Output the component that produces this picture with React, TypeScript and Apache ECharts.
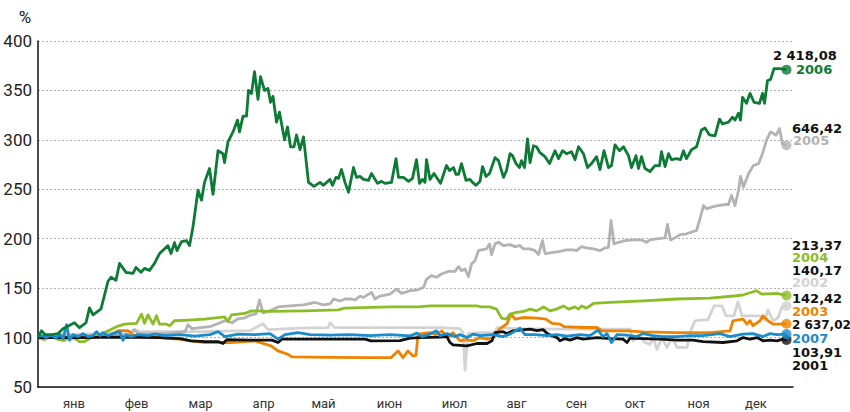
import React, { useEffect, useRef } from "react";
import * as echarts from "echarts";

const monthNames = ["янв", "фев", "мар", "апр", "май", "июн", "июл", "авг", "сен", "окт", "ноя", "дек"];
const monthTicks = [7.2, 19.7, 32.5, 45.1, 57.1, 70.3, 83.3, 95.7, 107.7, 119.4, 132.1, 143.6];
const yTicks = { min: 50, max: 400, interval: 50 };

const s2006 = [[0,100],[0.7,107],[1.4,103],[2.8,103],[4,104],[5,109],[7.3,115],[8.3,110],[9.6,115],[10.3,130],[11,123],[12.6,129],[14,157],[14.6,161],[15.6,158],[16.3,175],[17.6,166],[19,165],[19.6,171],[20.6,166],[21.3,170],[22.3,168],[23.3,175],[24.3,185],[26,193],[26.6,185],[27.3,196],[27.8,188],[28.7,197],[29.7,198],[30.3,193],[31,212],[32,249],[32.7,239],[33.3,257],[34.3,271],[35,245],[36,289],[37,286],[37.3,277],[38,298],[39,308],[39.9,320],[40.3,308],[41,324],[41.7,324],[42.1,350],[42.7,347],[43.3,369],[44,341],[44.5,364],[45.3,350],[46,352],[46.5,338],[47,344],[47.7,318],[48.3,328],[49.3,300],[49.9,313],[50.5,293],[51.2,293],[51.7,305],[52.4,290],[53.1,303],[54.1,257],[55.2,253],[56.4,257],[57.1,254],[58.4,260],[58.9,254],[59.6,262],[60.1,261],[60.7,270],[61.4,257],[62.1,247],[63.1,272],[63.7,262],[64.4,263],[65.1,260],[66.1,259],[66.7,266],[67.9,256],[68.7,258],[69.4,256],[70.7,257],[71.6,281],[72.1,262],[73.1,262],[74.1,258],[74.9,261],[75.7,280],[76.3,256],[76.9,260],[77.4,257],[77.7,280],[78.4,260],[79.2,266],[80.5,256],[81.7,274],[82.3,269],[83.1,272],[83.6,265],[84.1,265],[84.7,276],[85.6,259],[86.4,260],[86.9,257],[87.6,254],[88.4,258],[88.9,273],[89.6,263],[90.3,266],[91.4,282],[92.1,279],[93.1,262],[93.7,269],[94.4,286],[94.9,284],[95.6,276],[96.3,272],[96.7,279],[97.3,272],[97.9,301],[98.4,277],[99.1,294],[99.7,293],[100.4,287],[101.4,283],[102.3,276],[103.4,289],[104.1,281],[104.9,289],[105.7,286],[106.7,288],[107.4,280],[108.1,293],[109.1,286],[109.9,272],[110.7,276],[111.7,283],[112.4,270],[113.2,289],[114.1,272],[114.7,274],[115.4,295],[116.3,289],[117.1,293],[118.1,284],[118.7,272],[119.6,284],[120.1,271],[120.7,283],[121.4,271],[122.4,268],[123.4,274],[124.3,274],[124.7,288],[125.4,273],[126.1,286],[126.7,280],[127.7,281],[128.5,280],[129.1,289],[129.7,281],[130.7,290],[131.7,293],[132.7,310],[133.4,312],[134.3,305],[135.4,304],[136.3,321],[136.9,316],[138.1,318],[138.9,323],[139.4,320],[140.1,327],[140.5,320],[140.9,343],[141.7,337],[142.4,347],[143.2,338],[144.3,337],[144.9,347],[145.3,337],[145.9,360],[146.5,361],[147.2,372],[148.4,372],[149.7,371]];

const s2005 = [[0,100],[2.4,101],[6.4,102],[12.4,102],[18.4,103],[19.3,108],[20,104],[25.4,104],[29.4,106],[30,113],[30.8,109],[34.4,111],[37.4,117],[38.8,115],[40,119],[41.4,120],[42.6,123],[43.6,124],[44.3,138],[45,125],[46.4,127],[48,131],[50.4,132],[53.1,133],[55.4,135.5],[57.1,133],[58.4,134],[59.1,139],[60.4,137],[61.4,139],[62.7,139],[63.4,138],[64.4,142],[65.1,140.6],[66.7,145.7],[67.4,139],[68.4,142],[70.4,144],[71.7,149],[72.7,144.7],[74.4,147.4],[75.7,148],[77.1,150.7],[77.7,159],[78.7,162.6],[79.7,161],[80.7,164.3],[82.1,167],[83.4,167],[84.1,171.7],[84.7,167.7],[85.4,169.4],[86.1,161.6],[86.7,174.5],[87.4,177.8],[88.1,188],[88.7,188.7],[89.7,189.7],[90.3,194.8],[90.7,184],[91.4,194.8],[92.1,196.4],[93.1,193],[94.4,194],[95.4,192],[96.4,193],[97.1,189.7],[98.4,189.7],[99.4,188],[100.1,184],[100.9,198],[101.4,185],[103.1,186.2],[104.4,187.3],[105.7,188.7],[107.1,188.7],[107.7,188],[108.7,192],[109.7,190.7],[111.1,189.7],[112.4,188],[113.4,190.7],[114.1,191.3],[114.6,218.4],[115.2,194.8],[116.1,196.4],[117.4,198],[119.1,198.8],[120.7,198.8],[121.7,196.4],[122.4,198.8],[123.7,199.8],[125.4,200.9],[125.9,214.4],[126.5,198.8],[127.4,200.9],[128.4,204.2],[129.7,205],[130.7,206.6],[131.7,208.3],[132.3,218.4],[133.1,233.6],[133.7,230.2],[134.7,231.9],[136.1,233.6],[137.4,234.6],[138.1,234.6],[138.7,243.8],[139.4,233.6],[140.1,248.8],[140.5,263],[141.1,252.2],[142.1,265.7],[143.1,274.2],[144.1,275.8],[144.9,286],[145.7,299.6],[146.5,308],[147.1,306.4],[147.6,304.6],[148.3,311.4],[148.9,295.5],[149.7,294.5]];

const s2004 = [[0,100],[1.3,98],[2.7,101],[4,98],[5.3,97],[6,100],[7.4,99],[8.3,96],[9.3,96],[10.7,100],[13.3,105],[14.3,107.5],[15.7,111],[17.3,113.6],[19.7,114.3],[20.7,123.7],[21.3,114.3],[22,123],[23,113.6],[23.7,122],[24.3,113.6],[25.7,113.6],[26.3,112],[27.3,117],[30,117.7],[33.3,118.7],[37.3,121],[38,116.3],[38.7,123],[41.3,124.4],[42.7,127],[46.7,126.4],[53.3,127],[60,128],[61.3,129.8],[66.7,130.5],[70.7,131],[76,131],[78.4,132],[84.4,132],[87.7,132],[88.7,131],[90.4,131],[91.7,128.8],[92.7,119.7],[93.7,118.7],[94.4,123.7],[95.7,125.4],[97.1,126.4],[98.4,128.8],[99.7,127],[101.1,131],[102.4,127],[103.7,128.8],[105.1,132],[106.1,128.8],[107.4,131],[108.1,128.8],[108.7,132],[109.7,129.8],[111.1,134.5],[114.4,135.5],[121.1,137.2],[127.7,139],[134.4,140],[139.7,142.3],[141.1,143.3],[143.7,147.4],[144.7,144],[147.7,144.7],[149.7,142.6]];

const s2002 = [[0,100],[4.4,103],[12.4,104],[18.4,106],[19.2,108],[20.4,106],[32.4,106],[42.4,107],[45,114],[46,108],[52.4,109.5],[58,110],[58.4,115],[59.4,110],[72.4,110],[80.4,110],[84.4,109],[85,105],[85.4,67],[86,104],[88.4,105],[91.4,105],[91.8,110],[96.4,109],[104.4,108.6],[118.4,108.6],[119,97],[120.4,101],[121.4,95],[122.4,93],[123,100],[123.8,88],[124.8,100],[125.8,90],[126.8,100],[127.8,90],[129.8,90],[130.4,105],[131.4,117],[133,118],[134,118],[135.2,132],[136.8,132],[137.6,122],[139.2,122],[140,136],[140.8,122],[144.4,122],[145.4,118],[146,128],[147,117],[148,120],[148.8,131],[149.7,132]];

const s2003 = [[0,100],[4.4,100],[10.4,101],[14.4,102],[16,107],[18,107],[19.4,101],[24.4,100],[26.4,99],[28.4,98.4],[30.6,96.7],[33.4,95],[38.4,95],[43.4,96.7],[46.6,91.6],[48,86.5],[50,83],[50.8,80.4],[58.4,80],[66.4,79.7],[70.6,79.7],[72,86.5],[73,79.7],[74,86.5],[75,81.4],[75.6,82],[76,103.5],[78.4,105],[79.6,103],[80.8,106.8],[81.8,100],[83,105],[84.4,96.7],[85.6,98],[87,96.7],[88.4,100],[89.8,98.4],[91,100],[92.4,109],[93.8,114],[94.6,123.7],[95.4,118.7],[97,120.3],[99.8,119.7],[101.6,118.7],[102.8,114.3],[104.4,113.6],[105.2,111],[109,110.2],[111.8,110.2],[112.8,106.8],[117.8,106.8],[121,105.8],[127.8,105],[134.4,105],[138.4,106.8],[139,117],[141,118.7],[141.8,113.6],[142.4,117],[143,112],[144.4,117],[145,122],[146,117],[147,113.6],[148.4,113.6],[149.7,114]];

const s2001 = [[0,100],[8.4,100],[16.4,100.5],[24.4,100],[28.4,99],[30.6,96.7],[33.4,96],[36,96],[37,94],[37.8,98],[42.4,97.4],[46.8,97.4],[48,95],[48.8,98.4],[56.4,98.4],[65.4,98.4],[66.6,96.7],[72.4,97],[74.4,99.5],[76.4,100],[80.4,100.5],[81.8,101],[82.4,95],[83,92.6],[85.8,91.6],[87.8,94],[89.8,94],[90.8,96.7],[91.4,105],[93,106],[93.8,104],[95,106.8],[96.4,107.5],[98.4,108.6],[99.8,107],[101,108],[102,103.5],[103.8,100],[104.4,96.7],[105.4,99],[106.4,97.4],[107.8,100],[109,98.5],[111.8,100],[114.4,99],[117,98.4],[117.8,95],[118.4,99.5],[121,99],[124.4,98.4],[127.8,97.5],[131,97.4],[133,96],[137,95],[139.8,96.7],[141,100],[142.4,98.4],[143.8,100],[145,96.7],[146.4,97.4],[147.8,96.7],[149,98.4],[149.7,97.5]];

const s2007 = [[0,101],[1,102],[1.6,100],[2.6,102.5],[3.6,99.5],[4.4,103],[5,99],[5.7,113],[6.3,97.4],[7,103],[8,101],[9,104],[10,101],[11,102],[11.7,106],[12.4,102],[13,105],[14,102],[15,104],[16.3,106],[17,97.4],[17.6,103],[18.6,101],[20,103],[22,102],[23.4,103.5],[25.4,102],[28.4,103],[31.4,101.5],[34.4,103],[36,106],[37.4,101],[40,103.5],[43.4,103],[46.4,104],[48,98.4],[49.4,103],[52,105],[54.4,103],[58.4,102.5],[62.4,103],[66.4,102],[70.4,103],[74.4,101.7],[75.8,104.5],[76.8,101],[78.4,103.5],[79.7,106.8],[80.4,102],[81.8,104],[83.4,101],[84.4,103],[85.8,100],[87,103.5],[88.4,102],[91,103],[93,101],[94.4,103.5],[96.4,109.5],[97.4,103],[99.4,103],[101.8,102],[103.8,103],[105.8,101.5],[108.4,103],[110.4,102],[112,107.5],[113,101],[113.8,104],[114.7,95],[115.8,103],[117.8,102.5],[119.8,101],[121,104],[123,102],[125,101],[127.8,101],[130.4,102],[133,102],[136.4,104],[138.4,101],[141,103.5],[143,104],[145,101],[146.4,104],[147.8,103],[149.7,103.5]];

const labelYears = ["2006", "2005", "2004", "2002", "2003", "2007", "2001"];
const labelValues = ["2 418,08", "646,42", "213,37", "140,17", "142,42", "2 637,02", "103,91"];

const COLORS: Record<string, string> = {
  "2006": "#0d7a35",
  "2005": "#b3b3b3",
  "2004": "#8cbd27",
  "2002": "#d3d3d3",
  "2003": "#ef8300",
  "2007": "#1a8bcb",
  "2001": "#111111",
};

const drawOrder: [string, number[][]][] = [
  ["2002", s2002],
  ["2005", s2005],
  ["2003", s2003],
  ["2004", s2004],
  ["2001", s2001],
  ["2007", s2007],
  ["2006", s2006],
];

// label layout: [valueX, valueY, yearX, yearY]
const labelLayout: Record<string, number[]> = {
  "2006": [773, 55, 796, 69],
  "2005": [792, 128, 793, 140],
  "2004": [792, 245, 792, 257],
  "2002": [792, 270, 792, 282],
  "2003": [792, 298, 792, 311],
  "2007": [792, 325, 792, 338],
  "2001": [792, 352, 792, 365],
};

const axisFont = "Roboto, 'Liberation Sans', sans-serif";
const boldFont = "bold 13px 'DejaVu Sans', Verdana, sans-serif";

export default function App() {
  const ref = useRef<HTMLDivElement>(null);
  useEffect(() => {
    document.body.style.margin = "0";
    if (!ref.current) return;
    const chart = echarts.init(ref.current, undefined, { renderer: "svg" });

    const lineSeries = drawOrder.map(([year, data]) => ({
      name: year,
      type: "line",
      data,
      showSymbol: false,
      symbol: "none",
      silent: true,
      lineStyle: { color: COLORS[year], width: 2.8, join: "round" },
      emphasis: { disabled: true },
      z: 2,
    }));

    const dotSeries = {
      type: "scatter",
      silent: true,
      symbolSize: 10,
      z: 5,
      data: drawOrder.map(([year, data]) => ({
        value: data[data.length - 1],
        itemStyle: { color: COLORS[year] },
      })),
    };

    const graphics: any[] = [
      {
        type: "text",
        x: 25,
        y: 17,
        style: { text: "%", fill: "#222", font: `17px ${axisFont}`, align: "center", verticalAlign: "middle" },
      },
    ];
    labelYears.forEach((year, i) => {
      const [vx, vy, yx, yy] = labelLayout[year];
      const fits = labelValues[i].length > 7 && vx > 780;
      graphics.push({
        type: "text",
        x: vx,
        y: vy,
        style: {
          text: labelValues[i],
          fill: "#111",
          font: fits ? "bold 12px 'DejaVu Sans', Verdana, sans-serif" : boldFont,
          verticalAlign: "middle",
        },
      });
      graphics.push({
        type: "text",
        x: yx,
        y: yy,
        style: { text: year, fill: COLORS[year], font: boldFont, verticalAlign: "middle" },
      });
    });

    chart.setOption({
      animation: false,
      grid: { left: 38, right: 57, top: 41, bottom: 25, outerBoundsMode: "none" },
      xAxis: {
        type: "value",
        min: 0,
        max: 151,
        axisLine: { show: true, lineStyle: { color: "#111", width: 1.5 } },
        axisTick: { show: false },
        splitLine: { show: false },
        axisLabel: {
          customValues: monthTicks,
          formatter: (v: number) => {
            let best = 0;
            monthTicks.forEach((m, i) => {
              if (Math.abs(m - v) < Math.abs(monthTicks[best] - v)) best = i;
            });
            return monthNames[best];
          },
          color: "#333",
          fontSize: 13,
          margin: 10,
          fontFamily: axisFont,
        },
      },
      yAxis: {
        type: "value",
        min: yTicks.min,
        max: yTicks.max,
        interval: yTicks.interval,
        axisLine: { show: true, lineStyle: { color: "#111", width: 1.5 } },
        axisTick: { show: false },
        splitLine: { show: true, lineStyle: { color: "#b0b0b0", type: [2, 2], width: 1 } },
        axisLabel: { color: "#222", fontSize: 17, margin: 6, fontFamily: axisFont },
      },
      series: [...lineSeries, dotSeries],
      graphic: graphics,
    });
    return () => chart.dispose();
  }, []);
  return <div ref={ref} style={{ width: 850, height: 412 }} />;
}
